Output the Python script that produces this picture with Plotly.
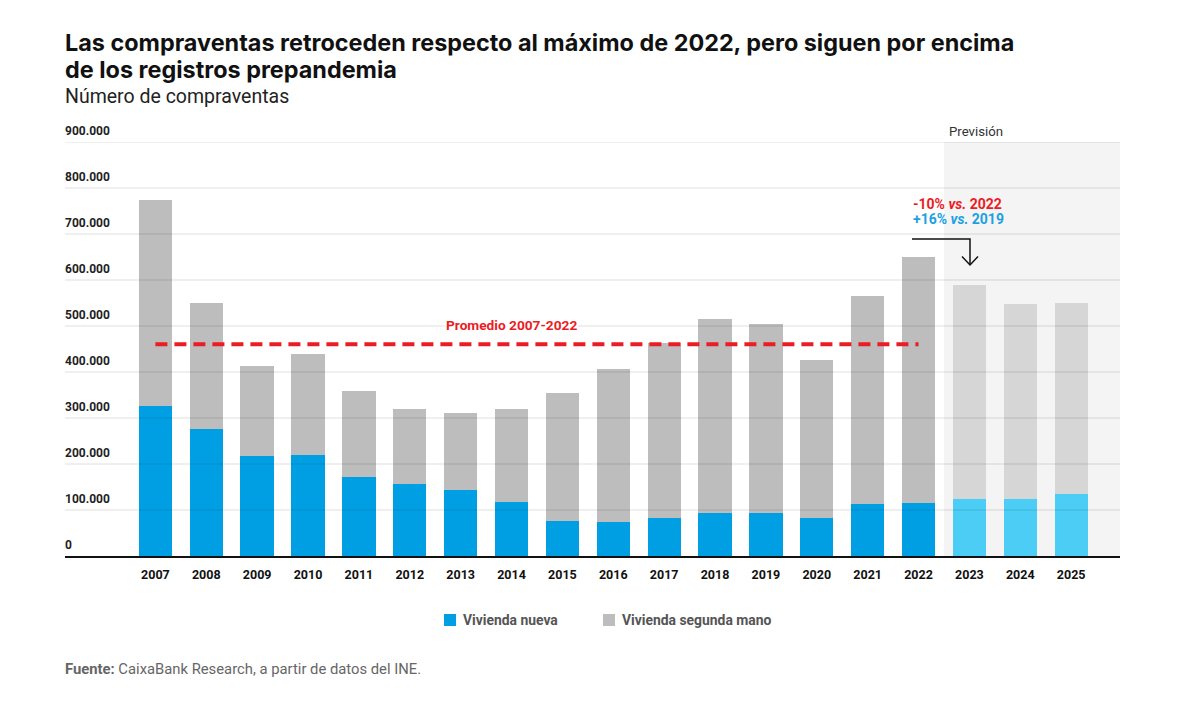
import plotly.graph_objects as go

# ---------------- data ----------------
years = ["2007", "2008", "2009", "2010", "2011", "2012", "2013", "2014", "2015",
         "2016", "2017", "2018", "2019", "2020", "2021", "2022", "2023", "2024", "2025"]
vivienda_nueva = [327000, 277000, 217000, 219000, 172000, 156000, 144000, 117000, 76000,
                  74000, 83000, 93000, 94000, 83000, 113000, 116000, 124000, 124000, 134000]
vivienda_segunda_mano = [446000, 273000, 196000, 220000, 187000, 163000, 167000, 202000, 279000,
                         332000, 379000, 423000, 410000, 344000, 452000, 533000, 465000, 423000, 416000]
forecast_years = ["2023", "2024", "2025"]
y_tick_vals = [0, 100000, 200000, 300000, 400000, 500000, 600000, 700000, 800000, 900000]
y_tick_text = ["0", "100.000", "200.000", "300.000", "400.000", "500.000",
               "600.000", "700.000", "800.000", "900.000"]

hist_years = [y for y in years if y not in forecast_years]
totals_hist = [vivienda_nueva[i] + vivienda_segunda_mano[i] for i, y in enumerate(years) if y in hist_years]
promedio = sum(totals_hist) / len(totals_hist)

# ---------------- styling ----------------
C_NEW, C_NEW_F = "#009fe3", "#4ccdf5"
C_OLD, C_OLD_F = "#bdbdbd", "#d6d6d6"
RED, BLUE = "#ec1c24", "#1ba1e2"
FONT = "Roboto"
TITLE_FONT = "Inter"

# page has an 8px body margin; work in reference pixel coordinates
OFF = 8
W, H = 1200 - OFF, 712 - OFF
L, R, T, B = 65, 1120, 142, 556


def px(xp):
    return (xp - L) / (R - L)


def py(yp):
    return (B - yp) / (B - T)


is_f = [y in forecast_years for y in years]
fig = go.Figure()
fig.add_trace(go.Bar(x=years, y=vivienda_nueva, name="Vivienda nueva",
                     marker=dict(color=[C_NEW_F if f else C_NEW for f in is_f], line=dict(width=0)),
                     showlegend=False))
fig.add_trace(go.Bar(x=years, y=vivienda_segunda_mano, name="Vivienda segunda mano",
                     marker=dict(color=[C_OLD_F if f else C_OLD for f in is_f], line=dict(width=0)),
                     showlegend=False))

first_f = years.index(forecast_years[0])
x_lo, x_hi = -1.777, 18.96

shapes = []
# forecast shading
shapes.append(dict(type="rect", xref="x", yref="y", x0=first_f - 0.5, x1=x_hi,
                   y0=0, y1=y_tick_vals[-1], fillcolor="#f4f4f4", line=dict(width=0), layer="below"))
# gridlines (drawn over bars, subtle)
for v in y_tick_vals[1:]:
    shapes.append(dict(type="line", xref="paper", yref="y", x0=0, x1=1, y0=v, y1=v,
                       line=dict(color="rgba(0,0,0,0.13)", width=1), layer="above"))
# average line
shapes.append(dict(type="line", xref="x", yref="y", x0=0, x1=len(hist_years) - 1,
                   y0=promedio, y1=promedio, line=dict(color=RED, width=4, dash="12px,7px"),
                   layer="above"))
# arrow
shapes.append(dict(type="path", xref="paper", yref="paper",
                   path=f"M{px(912)},{py(239)} L{px(970)},{py(239)} L{px(970)},{py(265)}",
                   line=dict(color="#111", width=1.5)))
shapes.append(dict(type="path", xref="paper", yref="paper",
                   path=f"M{px(962)},{py(256.5)} L{px(970)},{py(265)} L{px(978)},{py(256.5)}",
                   line=dict(color="#111", width=1.5)))
# legend squares
shapes.append(dict(type="rect", xref="paper", yref="paper", x0=px(444), x1=px(456),
                   y0=py(626), y1=py(614), fillcolor=C_NEW, line=dict(width=0)))
shapes.append(dict(type="rect", xref="paper", yref="paper", x0=px(603), x1=px(615),
                   y0=py(626), y1=py(614), fillcolor=C_OLD, line=dict(width=0)))

ann = []


def text(x, y, s, size, color, bold=False, xanchor="left", bg=None, family=FONT):
    d = dict(xref="paper", yref="paper", x=px(x), y=py(y), text=s, showarrow=False,
             xanchor=xanchor, yanchor="middle", align="left",
             font=dict(family=family, size=size, color=color, weight="bold" if bold else "normal"))
    if bg:
        d["bgcolor"] = bg
    ann.append(d)


text(63, 42, "Las compraventas retroceden respecto al máximo de 2022, pero siguen por encima", 23.4, "#111", True,
     family=TITLE_FONT)
text(63, 69, "de los registros prepandemia", 23.4, "#111", True, family=TITLE_FONT)
text(63, 97, "Número de compraventas", 19.5, "#222")
text(947, 131, "Previsión", 13.2, "#333")
text(511, 325, "Promedio 2007-2022", 13.7, RED, True, xanchor="center", bg="white")
text(911, 204, "-10% <i>vs.</i> 2022", 14, RED, True)
text(911, 219, "+16% <i>vs.</i> 2019", 14, BLUE, True)
text(461, 620, "Vivienda nueva", 13.9, "#555", True)
text(620, 620, "Vivienda segunda mano", 13.9, "#555", True)
text(63, 669, "<b>Fuente:</b> CaixaBank Research, a partir de datos del INE.", 14.8, "#666")

# y tick labels sit above their gridlines at the left edge
for v, t in zip(y_tick_vals, y_tick_text):
    ann.append(dict(xref="paper", yref="y", x=0, y=v, yshift=11, text=t, showarrow=False,
                    xanchor="left", yanchor="middle", xshift=-2,
                    font=dict(family=FONT, size=12, color="#222", weight="bold")))

fig.update_layout(
    width=W, height=H,
    margin=dict(l=L - OFF, r=W - (R - OFF), t=T - OFF, b=H - (B - OFF), pad=0, autoexpand=False),
    paper_bgcolor="white", plot_bgcolor="white",
    barmode="stack", bargap=0.345,
    shapes=shapes, annotations=ann,
    font=dict(family=FONT),
    showlegend=False,
)
fig.update_xaxes(type="category", range=[x_lo, x_hi], showgrid=False, showline=True,
                 linecolor="#111", linewidth=2, ticks="", ticklabelstandoff=6,
                 tickfont=dict(family=FONT, size=12.5, color="#111", weight="bold"))
fig.update_yaxes(range=[0, y_tick_vals[-1]], showticklabels=False,
                 showgrid=False, zeroline=False, showline=False, ticks="")

fig.write_html("out.html")
